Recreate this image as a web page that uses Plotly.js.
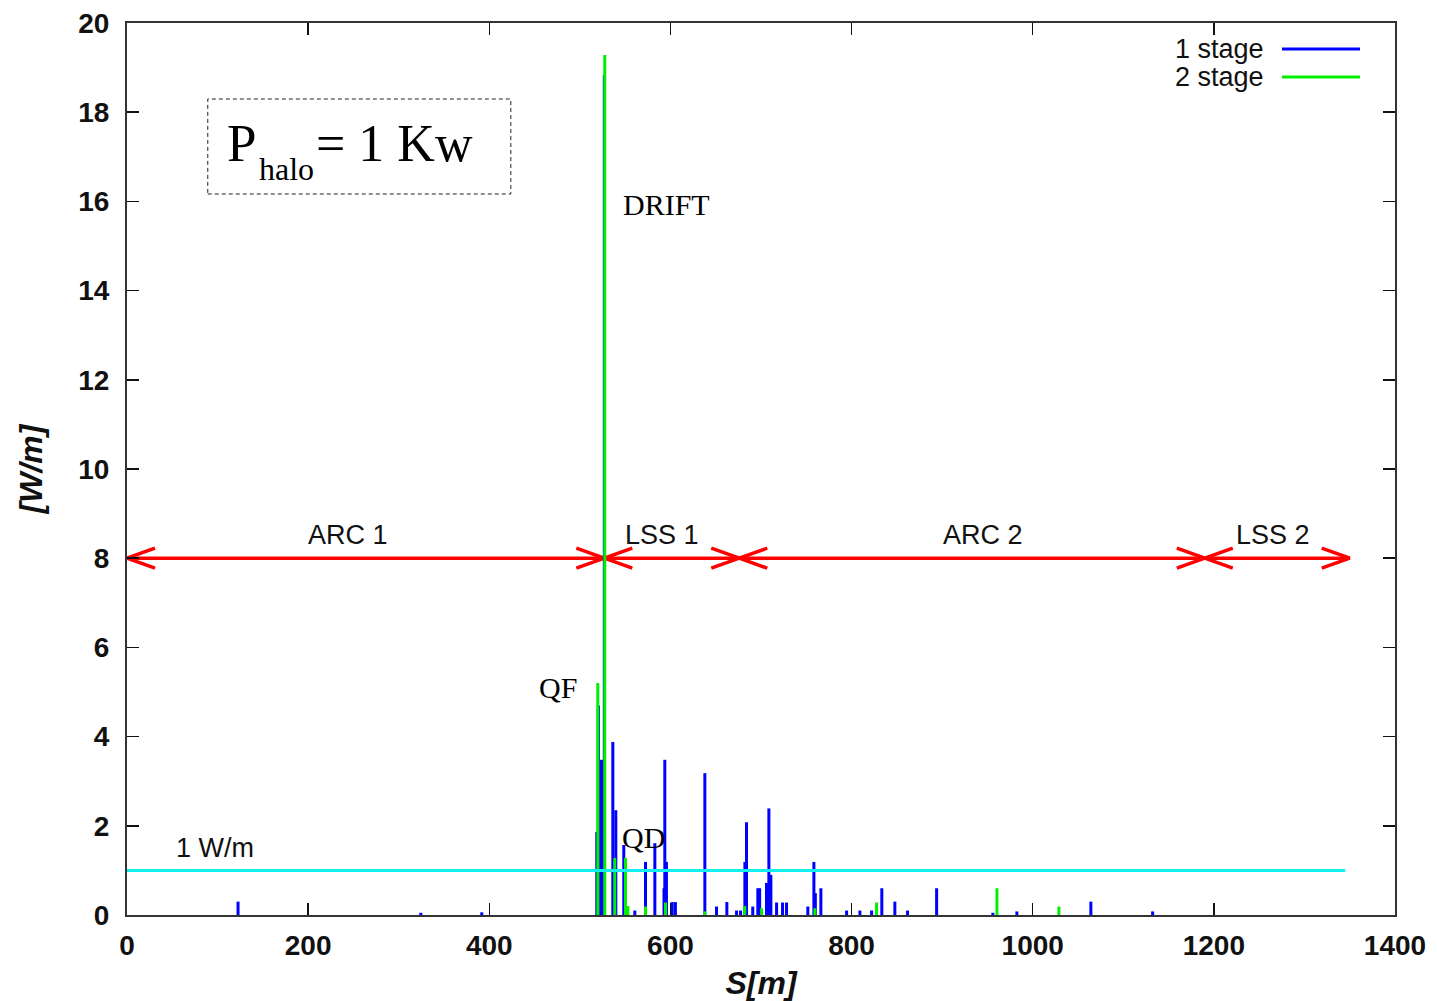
<!DOCTYPE html>
<html>
<head>
<meta charset="utf-8">
<script src="https://cdn.plot.ly/plotly-3.0.1.min.js"></script>
<style>
  html, body { margin: 0; padding: 0; background: #fff; }
  #chart { width: 1437px; height: 1001px; }
</style>
</head>
<body>
<div id="chart"></div>
<script>
// Beam-loss power deposition along the ring, two collimation schemes
// 1-stage collimation: positions S [m] and deposited power [W/m]
const stage1Pos = [122.6, 324.4, 391.7, 518.7, 520.5, 523.9, 527.0, 536.4, 539.7, 548.5,
                   560.7, 572.5, 582.8, 592.9, 593.8, 595.6, 602.0, 605.5, 638.0, 650.9,
                   662.3, 673.0, 677.4, 682.2, 684.0, 690.9, 696.5, 698.5, 706.1, 708.7,
                   710.9, 717.2, 723.8, 728.2, 751.7, 758.4, 760.0, 766.1, 794.5, 809.2,
                   822.1, 833.4, 847.8, 861.8, 893.9, 956.0, 982.5, 1064.2, 1132.4];
const stage1Val = [0.30, 0.05, 0.06, 1.86, 4.70, 3.48, 18.83, 3.88, 2.35, 1.57,
                   0.10, 1.19, 1.61, 0.60, 3.48, 1.19, 0.29, 0.29, 3.18, 0.19,
                   0.29, 0.10, 0.10, 1.19, 2.08, 0.19, 0.60, 0.60, 0.72, 2.39,
                   0.90, 0.28, 0.28, 0.28, 0.19, 1.19, 0.49, 0.60, 0.10, 0.10,
                   0.10, 0.60, 0.30, 0.10, 0.60, 0.05, 0.08, 0.30, 0.08];

// 2-stage collimation
const stage2Pos = [519.8, 527.5, 538.5, 550.4, 553.0, 572.5, 594.6, 638.0, 682.0, 700.6,
                   759.5, 827.6, 960.5, 1028.9];
const stage2Val = [5.20, 19.28, 1.28, 1.28, 0.20, 0.19, 0.28, 0.08, 0.20, 0.15,
                   0.15, 0.28, 0.60, 0.19];

// Reference limit of 1 W/m and the span it is drawn over
const lossLimit = 1;
const limitSpan = [0, 1345];

// Machine sections shown as double arrows
const sectionNames = ["ARC 1", "LSS 1", "ARC 2", "LSS 2"];
const sectionEdges = [0, 527, 676, 1190, 1350];
const sectionLevel = 8;

// Tick values
const xTicks = [0, 200, 400, 600, 800, 1000, 1200, 1400];
const yTicks = [0, 2, 4, 6, 8, 10, 12, 14, 16, 18, 20];

const seriesNames = ["1 stage", "2 stage"];

// ---- geometry helpers (plot frame in pixels) ----
const margin = { l: 127, r: 42, t: 23, b: 86 };
const W = 1437, H = 1001;
const xRange = [0, 1400], yRange = [0, 20];
const pxPerX = (W - margin.l - margin.r) / (xRange[1] - xRange[0]);
const pxPerY = (H - margin.t - margin.b) / (yRange[1] - yRange[0]);

const BLUE = '#0000ff', GREEN = '#00f000', CYAN = '#10f0f0', RED = '#ff0000';

// vertical impulses from the baseline up to each value
function impulses(pos, val) {
  const x = [], y = [];
  pos.forEach((p, i) => { x.push(p, p, null); y.push(0, val[i], null); });
  return { x, y };
}

// double-headed arrows with open "V" heads, one per section
function sectionArrows() {
  const hx = 28 / pxPerX, hy = 10 / pxPerY;
  const x = [], y = [];
  for (let i = 0; i < sectionNames.length; i++) {
    const a = sectionEdges[i], b = sectionEdges[i + 1], v = sectionLevel;
    x.push(a, b, null); y.push(v, v, null);
    x.push(a + hx, a, a + hx, null); y.push(v + hy, v, v - hy, null);
    x.push(b - hx, b, b - hx, null); y.push(v + hy, v, v - hy, null);
  }
  return { x, y };
}

const s1 = impulses(stage1Pos, stage1Val);
const s2 = impulses(stage2Pos, stage2Val);
const arr = sectionArrows();

const traces = [
  { x: arr.x, y: arr.y, type: 'scatter', mode: 'lines', hoverinfo: 'skip',
    line: { color: RED, width: 3.5 }, showlegend: false },
  { x: s1.x, y: s1.y, type: 'scatter', mode: 'lines', name: seriesNames[0],
    line: { color: BLUE, width: 3 }, showlegend: false },
  { x: s2.x, y: s2.y, type: 'scatter', mode: 'lines', name: seriesNames[1],
    line: { color: GREEN, width: 3 }, showlegend: false },
  { x: limitSpan, y: [lossLimit, lossLimit], type: 'scatter', mode: 'lines',
    line: { color: CYAN, width: 3 }, showlegend: false, hoverinfo: 'skip' }
];

const sans = 'Liberation Sans, Arial, Helvetica, sans-serif';
const serif = 'Liberation Serif, Times New Roman, serif';

const annotations = [];
const sectionLabelX = [243.7, 590.5, 945, 1265];
sectionNames.forEach((n, i) => annotations.push({
  x: sectionLabelX[i], y: 8.52, xref: 'x', yref: 'y', text: n, showarrow: false,
  xanchor: 'center', yanchor: 'middle', font: { family: sans, size: 27, color: '#111' }
}));

annotations.push(
  { x: 51.6, y: 1.5, xref: 'x', yref: 'y', text: '1 W/m', showarrow: false,
    xanchor: 'left', yanchor: 'middle', font: { family: sans, size: 27, color: '#111' } },
  { x: 545, y: 15.92, xref: 'x', yref: 'y', text: 'DRIFT', showarrow: false,
    xanchor: 'left', yanchor: 'middle', font: { family: serif, size: 30, color: '#000' } },
  { x: 452.6, y: 5.09, xref: 'x', yref: 'y', text: 'QF', showarrow: false,
    xanchor: 'left', yanchor: 'middle', font: { family: serif, size: 30, color: '#000' } },
  { x: 544, y: 1.73, xref: 'x', yref: 'y', text: 'QD', showarrow: false,
    xanchor: 'left', yanchor: 'middle', font: { family: serif, size: 30, color: '#000' } },
  // P_halo = 1 Kw
  { x: 108, y: 17.3, xref: 'x', yref: 'y', text: 'P', showarrow: false,
    xanchor: 'left', yanchor: 'middle', font: { family: serif, size: 53, color: '#000' } },
  { x: 143, y: 16.72, xref: 'x', yref: 'y', text: 'halo', showarrow: false,
    xanchor: 'left', yanchor: 'middle', font: { family: serif, size: 32, color: '#000' } },
  { x: 206, y: 17.3, xref: 'x', yref: 'y', text: '= 1 Kw', showarrow: false,
    xanchor: 'left', yanchor: 'middle', font: { family: serif, size: 52, color: '#000' } },
  // key
  { x: 0.898, y: 0.9709, xref: 'paper', yref: 'paper', text: seriesNames[0], showarrow: false,
    xanchor: 'right', yanchor: 'middle', font: { family: sans, size: 27, color: '#111' } },
  { x: 0.898, y: 0.9395, xref: 'paper', yref: 'paper', text: seriesNames[1], showarrow: false,
    xanchor: 'right', yanchor: 'middle', font: { family: sans, size: 27, color: '#111' } }
);

const shapes = [
  { type: 'rect', xref: 'paper', yref: 'paper', x0: 0.0637, x1: 0.3027, y0: 0.8083, y1: 0.9148,
    line: { color: '#222', width: 1, dash: '4px,3px' }, fillcolor: 'rgba(0,0,0,0)' },
  { type: 'line', xref: 'paper', yref: 'paper', x0: 0.9109, x1: 0.9724, y0: 0.9709, y1: 0.9709,
    line: { color: BLUE, width: 3 } },
  { type: 'line', xref: 'paper', yref: 'paper', x0: 0.9109, x1: 0.9724, y0: 0.9395, y1: 0.9395,
    line: { color: GREEN, width: 3 } }
];

const axisCommon = {
  showgrid: false, zeroline: false, showline: true, mirror: 'ticks',
  linecolor: '#333', linewidth: 2, ticks: 'inside', ticklen: 12, tickwidth: 1.5,
  tickcolor: '#111', tickfont: { family: sans, size: 28, color: '#111', weight: 'bold' }
};

const layout = {
  width: W, height: H, margin: margin,
  paper_bgcolor: '#fff', plot_bgcolor: '#fff',
  showlegend: false,
  xaxis: Object.assign({}, axisCommon, {
    range: xRange, tickmode: 'array', tickvals: xTicks, ticktext: xTicks.map(String),
    ticklabelstandoff: 4,
    title: { text: 'S[m]', standoff: 12,
      font: { family: sans, size: 32, color: '#111', weight: 'bold', style: 'italic' } }
  }),
  yaxis: Object.assign({}, axisCommon, {
    range: yRange, tickmode: 'array', tickvals: yTicks, ticktext: yTicks.map(String),
    ticklabelstandoff: 10,
    title: { text: '[W/m]', standoff: 26,
      font: { family: sans, size: 32, color: '#111', weight: 'bold', style: 'italic' } }
  }),
  annotations: annotations,
  shapes: shapes
};

Plotly.newPlot('chart', traces, layout, { staticPlot: true, displayModeBar: false });
</script>
</body>
</html>
